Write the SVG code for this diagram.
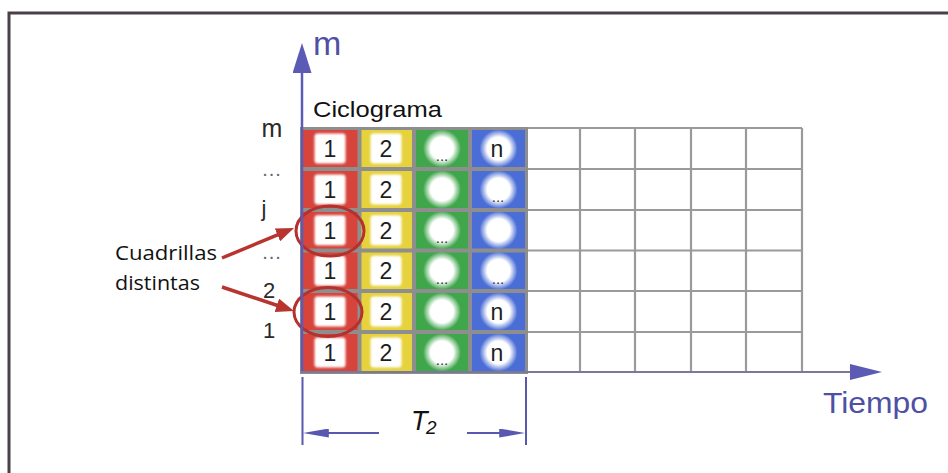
<svg xmlns="http://www.w3.org/2000/svg" xmlns:xlink="http://www.w3.org/1999/xlink" width="948" height="473" viewBox="0 0 948 473">
<defs>
<style>
.frame{fill:none;stroke:#4b4048;stroke-width:3}
.grid{stroke:#9a9a9a;stroke-width:2.2;fill:none}
.red{fill:#d6443b}.yel{fill:#e5d23d}.grn{fill:#3fa64b}.blu{fill:#4a6ed6}
.wsq{fill:#ffffff;filter:url(#soft)}
.num{font-family:"Liberation Sans",Arial,sans-serif;font-size:23px;fill:#1e1e1e;text-anchor:middle}
.dots{font-family:"Liberation Sans",Arial,sans-serif;font-size:15px;fill:#333333;text-anchor:middle}
.rowlab{font-family:"Liberation Sans",Arial,sans-serif;font-size:22px;fill:#2a2a2a;text-anchor:middle}
.rowdots{font-family:"Liberation Sans",Arial,sans-serif;font-size:20px;letter-spacing:1px;fill:#666666;text-anchor:middle}
.blk{font-family:"Liberation Sans",Arial,sans-serif;fill:#111111}
.cal{font-family:"Open Sans","Liberation Sans",sans-serif;font-size:20px;fill:#111111}
.bt{font-family:"Liberation Sans",Arial,sans-serif;fill:#4f4fa4}
.axis{stroke:#5b5bb6;stroke-width:2.5;fill:none}
.xaxis{stroke:#7a7a98;stroke-width:2.2;fill:none}
.dim{stroke:#5858b0;stroke-width:2;fill:none}
.rarrow{stroke:#b8342f;stroke-width:3.5;fill:none}
.ring{fill:none;stroke:#b5312e;stroke-width:3}
</style>
<filter id="soft" x="-20%" y="-20%" width="140%" height="140%"><feGaussianBlur stdDeviation="1.2"/></filter>
<radialGradient id="blobg"><stop offset="0.6" stop-color="#ffffff"/><stop offset="1" stop-color="#ffffff" stop-opacity="0"/></radialGradient>
<rect id="sq" x="-15.5" y="-15" width="31" height="30" rx="3"/>
<circle id="blob" r="19" fill="url(#blobg)"/>
<marker id="mRed" viewBox="0 0 10 10" refX="3" refY="5" markerUnits="userSpaceOnUse" markerWidth="18" markerHeight="14" orient="auto" preserveAspectRatio="none"><path d="M0,0 L10,5 L0,10 z" fill="#b8342f"/></marker>
<marker id="mAxY" viewBox="0 0 10 10" refX="3" refY="5" markerUnits="userSpaceOnUse" markerWidth="30" markerHeight="19" orient="auto" preserveAspectRatio="none"><path d="M0,0 L10,5 L0,10 z" fill="#5b5bb6"/></marker>
<marker id="mAxX" viewBox="0 0 10 10" refX="3" refY="5" markerUnits="userSpaceOnUse" markerWidth="32" markerHeight="16" orient="auto" preserveAspectRatio="none"><path d="M0,0 L10,5 L0,10 z" fill="#5b5bb6"/></marker>
<marker id="mDim" viewBox="0 0 10 10" refX="3" refY="5" markerUnits="userSpaceOnUse" markerWidth="26" markerHeight="9" orient="auto" preserveAspectRatio="none"><path d="M0,0 L10,5 L0,10 z" fill="#5858b0"/></marker>
</defs>
<rect width="948" height="473" fill="#ffffff"/>
<path class="frame" d="M9,473 V13 H948"/>

<g id="empty-grid">
<path class="grid" d="M527,128 H802 M527,169 H802 M527,210 H802 M527,250.5 H802 M527,291 H802 M527,332 H802 M580,128 V373 M635,128 V373 M691,128 V373 M746,128 V373 M802,128 V373"/>
</g>

<g id="ciclograma">
<rect x="300" y="127" width="228" height="247" fill="#8e8e8e"/>
<text class="blk" x="313" y="117" style="font-size:22px" textLength="129" lengthAdjust="spacingAndGlyphs">Ciclograma</text>
</g>

<g id="row-m">
<rect class="red" x="303" y="130" width="54.5" height="37"/><rect class="yel" x="361.5" y="130" width="50.5" height="37"/><rect class="grn" x="416" y="130" width="52" height="37"/><rect class="blu" x="472" y="130" width="53" height="37"/>
<use xlink:href="#sq" class="wsq" x="330" y="148.5"/><use xlink:href="#sq" class="wsq" x="386" y="148.5"/><use xlink:href="#blob" x="442" y="148.5"/><use xlink:href="#blob" x="498.5" y="148.5"/>
<text class="num" x="330" y="157">1</text><text class="num" x="386" y="157">2</text><text class="dots" x="442" y="161">...</text><text class="num" x="497" y="157">n</text>
</g>
<g id="row-dots-upper">
<rect class="red" x="303" y="171" width="54.5" height="37"/><rect class="yel" x="361.5" y="171" width="50.5" height="37"/><rect class="grn" x="416" y="171" width="52" height="37"/><rect class="blu" x="472" y="171" width="53" height="37"/>
<use xlink:href="#sq" class="wsq" x="330" y="189.5"/><use xlink:href="#sq" class="wsq" x="386" y="189.5"/><use xlink:href="#blob" x="442" y="189.5"/><use xlink:href="#blob" x="498.5" y="189.5"/>
<text class="num" x="330" y="198">1</text><text class="num" x="386" y="198">2</text><text class="dots" x="498" y="202">...</text>
</g>
<g id="row-j">
<rect class="red" x="303" y="212" width="54.5" height="36.5"/><rect class="yel" x="361.5" y="212" width="50.5" height="36.5"/><rect class="grn" x="416" y="212" width="52" height="36.5"/><rect class="blu" x="472" y="212" width="53" height="36.5"/>
<use xlink:href="#sq" class="wsq" x="330" y="230.2"/><use xlink:href="#sq" class="wsq" x="386" y="230.2"/><use xlink:href="#blob" x="442" y="230.2"/><use xlink:href="#blob" x="498.5" y="230.2"/>
<text class="num" x="330" y="238.7">1</text><text class="num" x="386" y="238.7">2</text><text class="dots" x="442" y="243">...</text>
</g>
<g id="row-dots-lower">
<rect class="red" x="303" y="252.5" width="54.5" height="36.5"/><rect class="yel" x="361.5" y="252.5" width="50.5" height="36.5"/><rect class="grn" x="416" y="252.5" width="52" height="36.5"/><rect class="blu" x="472" y="252.5" width="53" height="36.5"/>
<use xlink:href="#sq" class="wsq" x="330" y="270.7"/><use xlink:href="#sq" class="wsq" x="386" y="270.7"/><use xlink:href="#blob" x="442" y="270.7"/><use xlink:href="#blob" x="498.5" y="270.7"/>
<text class="num" x="330" y="279.2">1</text><text class="num" x="386" y="279.2">2</text><text class="dots" x="442" y="283.5">...</text><text class="dots" x="498" y="283.5">...</text>
</g>
<g id="row-2">
<rect class="red" x="303" y="293" width="54.5" height="37"/><rect class="yel" x="361.5" y="293" width="50.5" height="37"/><rect class="grn" x="416" y="293" width="52" height="37"/><rect class="blu" x="472" y="293" width="53" height="37"/>
<use xlink:href="#sq" class="wsq" x="330" y="311.5"/><use xlink:href="#sq" class="wsq" x="386" y="311.5"/><use xlink:href="#blob" x="442" y="311.5"/><use xlink:href="#blob" x="498.5" y="311.5"/>
<text class="num" x="330" y="320">1</text><text class="num" x="386" y="320">2</text><text class="num" x="497" y="320">n</text>
</g>
<g id="row-1">
<rect class="red" x="303" y="334" width="54.5" height="37"/><rect class="yel" x="361.5" y="334" width="50.5" height="37"/><rect class="grn" x="416" y="334" width="52" height="37"/><rect class="blu" x="472" y="334" width="53" height="37"/>
<use xlink:href="#sq" class="wsq" x="330" y="352.5"/><use xlink:href="#sq" class="wsq" x="386" y="352.5"/><use xlink:href="#blob" x="442" y="352.5"/><use xlink:href="#blob" x="498.5" y="352.5"/>
<text class="num" x="330" y="361">1</text><text class="num" x="386" y="361">2</text><text class="dots" x="442" y="365">...</text><text class="num" x="497" y="361">n</text>
</g>

<g id="row-labels">
<text class="rowlab" x="272" y="137" style="font-size:25px">m</text>
<text class="rowdots" x="272" y="176">...</text>
<text class="rowlab" x="264" y="216">j</text>
<text class="rowdots" x="272" y="259">...</text>
<text class="rowlab" x="269" y="298">2</text>
<text class="rowlab" x="269" y="338">1</text>
</g>

<g id="axis-labels">
<text class="bt" x="313" y="55" style="font-size:34px">m</text>
<text class="bt" x="823" y="413" style="font-size:30px" textLength="105" lengthAdjust="spacingAndGlyphs">Tiempo</text>
</g>

<g id="cuadrillas-label">
<text class="cal" x="115" y="260" textLength="102" lengthAdjust="spacingAndGlyphs">Cuadrillas</text>
<text class="cal" x="115" y="290" textLength="85" lengthAdjust="spacingAndGlyphs">distintas</text>
</g>

<g id="highlight-rings">
<ellipse class="ring" cx="330" cy="231" rx="34" ry="25"/>
<ellipse class="ring" cx="328" cy="312" rx="34" ry="24.5"/>
</g>

<g id="t2-label">
<text class="blk" x="411" y="430" style="font-size:27px;font-style:italic">T</text>
<text class="blk" x="426" y="434" style="font-size:19px;font-style:italic">2</text>
</g>

<g id="connectors">
<path class="axis" d="M302,373 V64" marker-end="url(#mAxY)"/>
<path class="xaxis" d="M301,372 H859.6" marker-end="url(#mAxX)"/>
<path class="dim" d="M302.5,377 V445 M526,377 V445"/>
<path class="dim" d="M379,433 H321" marker-end="url(#mDim)"/>
<path class="dim" d="M467,433 H507" marker-end="url(#mDim)"/>
<path class="rarrow" d="M222,258 L282.4,232.8" marker-end="url(#mRed)"/>
<path class="rarrow" d="M222,287 L282,307" marker-end="url(#mRed)"/>
</g>
</svg>
